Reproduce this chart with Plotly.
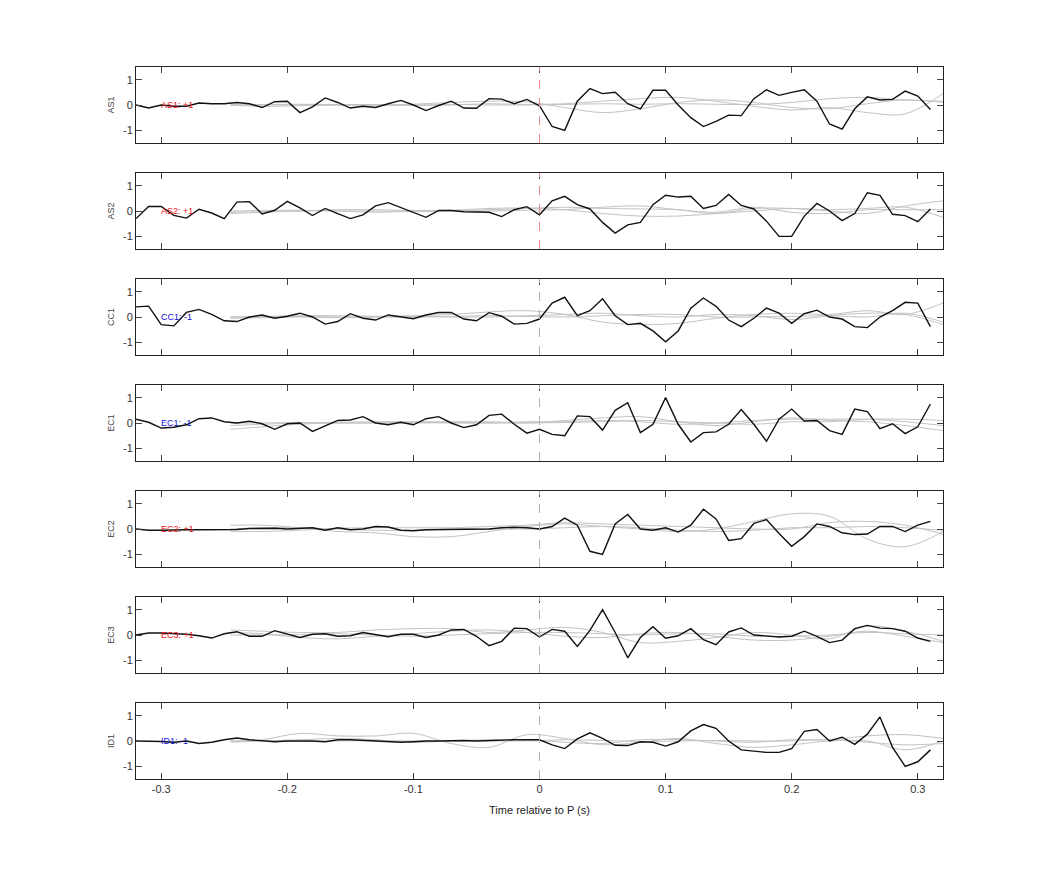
import numpy as np
import plotly.graph_objects as go
from plotly.subplots import make_subplots

t = [round(-0.32 + 0.01 * i, 2) for i in range(64)]

stations = ["AS1", "AS2", "CC1", "EC1", "EC2", "EC3", "ID1"]
labels = ["AS1: +1", "AS2: +1", "CC1: -1", "EC1: -1", "EC2: +1", "EC3: +1", "ID1: -1"]
label_colors = ["#e8141e", "#e8141e", "#1414d2", "#1414d2", "#e8141e", "#e8141e", "#1414d2"]
xtick_vals = [-0.3, -0.2, -0.1, 0, 0.1, 0.2, 0.3]
xtick_text = ["-0.3", "-0.2", "-0.1", "0", "0.1", "0.2", "0.3"]
ytick_vals = [-1, 0, 1]
ytick_text = ["-1", "0", "1"]

AS1 = [0, -0.12, 0, -0.05, -0.05, 0.08, 0.05, 0.05, 0.1, 0.05, -0.1, 0.13, 0.15, -0.3, -0.07, 0.28,
       0.1, -0.12, -0.05, -0.1, 0.05, 0.18, 0, -0.22, -0.02, 0.15, -0.12, -0.13, 0.25, 0.23, 0.05, 0.22,
       -0.03, -0.85, -1.0, 0.15, 0.65, 0.45, 0.5, 0.05, -0.15, 0.58, 0.58, 0, -0.5, -0.85, -0.65, -0.4,
       -0.42, 0.25, 0.6, 0.38, 0.5, 0.6, 0.15, -0.75, -0.95, -0.15, 0.32, 0.2, 0.22, 0.55, 0.35, -0.18]
AS2 = [-0.3, 0.18, 0.18, -0.17, -0.28, 0.07, -0.08, -0.3, 0.35, 0.37, -0.12, 0.03, 0.38, 0.12, -0.18, 0.1,
       -0.1, -0.3, -0.15, 0.2, 0.33, 0.13, -0.08, -0.25, 0.02, 0.02, -0.03, -0.03, -0.05, -0.22, 0.05, 0.17,
       -0.15, 0.4, 0.58, 0.25, 0.08, -0.45, -0.87, -0.55, -0.45, 0.25, 0.62, 0.55, 0.58, 0.1, 0.22, 0.65,
       0.22, 0.08, -0.4, -1.0, -1.0, -0.2, 0.3, 0.0, -0.38, -0.1, 0.72, 0.62, -0.13, -0.18, -0.42, 0.08]
CC1 = [0.4, 0.43, -0.3, -0.35, 0.18, 0.3, 0.1, -0.15, -0.18, 0, 0.08, -0.05, 0.03, 0.15, 0, -0.28,
       -0.18, 0.13, -0.05, -0.12, 0.08, 0, -0.07, 0.08, 0.18, 0.18, -0.08, -0.15, 0.17, 0.03, -0.28, -0.25,
       -0.08, 0.55, 0.78, 0.05, 0.25, 0.72, 0.05, -0.3, -0.25, -0.55, -0.98, -0.55, 0.35, 0.75, 0.42, -0.12,
       -0.38, -0.05, 0.35, 0.15, -0.25, 0.13, 0.27, 0.0, -0.08, -0.38, -0.42, 0.0, 0.25, 0.58, 0.55, -0.38]
EC1 = [0.15, 0.03, -0.2, -0.17, -0.07, 0.17, 0.2, 0.05, 0, 0.07, -0.03, -0.25, -0.03, 0, -0.33, -0.1,
       0.1, 0.12, 0.25, 0, -0.07, 0.03, -0.07, 0.17, 0.25, 0, -0.18, -0.07, 0.3, 0.35, -0.05, -0.4,
       -0.25, -0.45, -0.5, 0.28, 0.25, -0.28, 0.5, 0.8, -0.38, -0.05, 1.0, -0.05, -0.75, -0.38, -0.35, -0.05,
       0.53, -0.05, -0.72, 0.15, 0.55, 0.08, 0.1, -0.3, -0.45, 0.55, 0.45, -0.22, -0.03, -0.42, -0.15, 0.75]
EC2 = [0, -0.05, -0.05, -0.03, -0.03, -0.03, -0.03, -0.02, -0.02, 0.02, 0.03, 0.03, 0.0, 0.02, 0.05, -0.05,
       0.05, -0.03, 0.0, 0.1, 0.08, -0.05, -0.07, -0.03, -0.02, 0.0, 0.0, 0.0, 0.0, 0.05, 0.07, 0.05,
       0.0, 0.1, 0.43, 0.15, -0.88, -1.0, 0.2, 0.57, 0.0, -0.05, 0.05, -0.12, 0.15, 0.78, 0.4, -0.45,
       -0.38, 0.22, 0.37, -0.18, -0.68, -0.3, 0.2, 0.1, -0.15, -0.22, -0.2, 0.1, 0.1, -0.1, 0.15, 0.3]
EC3 = [0, 0.08, 0.08, 0.07, 0.03, -0.03, -0.12, 0.05, 0.13, -0.05, -0.05, 0.17, 0.05, -0.1, 0.03, 0.05,
       -0.05, -0.03, 0.1, 0.0, -0.07, 0.03, 0.03, -0.1, 0.0, 0.2, 0.22, -0.05, -0.42, -0.25, 0.27, 0.25,
       -0.08, 0.22, 0.15, -0.45, 0.18, 1.0, 0.1, -0.9, -0.1, 0.33, -0.13, -0.03, 0.25, -0.18, -0.38, 0.12,
       0.28, 0.0, -0.05, -0.08, -0.05, 0.15, -0.05, -0.3, -0.2, 0.25, 0.38, 0.27, 0.25, 0.15, -0.12, -0.25]
ID1 = [0, 0, -0.02, -0.05, 0, -0.1, -0.05, 0.05, 0.12, 0.05, 0, -0.03, 0, 0.0, 0, -0.03,
       0.05, 0.05, 0.03, 0, -0.03, -0.05, -0.03, 0, 0, 0.02, 0.02, 0.0, 0.02, 0.03, 0.05, 0.05,
       0.05, -0.15, -0.3, 0.08, 0.32, 0.1, -0.17, -0.18, -0.03, -0.05, -0.2, -0.03, 0.4, 0.65, 0.5, 0.0,
       -0.35, -0.4, -0.45, -0.45, -0.3, 0.38, 0.45, 0.0, 0.15, -0.13, 0.27, 0.95, -0.25, -1.0, -0.82, -0.35]
traces = [AS1, AS2, CC1, EC1, EC2, EC3, ID1]

# grey synthetic traces, control points
gt = [-0.245, -0.22, -0.19, -0.16, -0.13, -0.10, -0.07, -0.04, -0.01, 0.02,
      0.05, 0.08, 0.11, 0.14, 0.17, 0.20, 0.23, 0.26, 0.29, 0.32]
grey = [
    [[0, 0.02, 0.03, 0.02, 0, 0.03, 0.1, 0.15, 0.12, -0.1, -0.3, -0.15, 0.1, 0.2, 0.1, -0.1, -0.15, 0.05, 0.2, 0.1],
     [0, -0.05, -0.03, 0, 0.02, -0.02, 0, 0.05, 0.02, 0.05, 0.15, 0.25, 0.3, 0.15, -0.05, -0.2, -0.1, -0.3, -0.35, 0.45],
     [0, 0, 0.01, 0, -0.01, 0, 0.02, 0, 0, 0.02, 0.05, 0.03, 0.05, 0.03, 0.02, 0.1, 0.25, 0.3, 0.2, 0.15]],
    [[-0.05, -0.03, 0, 0.05, 0.05, 0.02, 0, 0.05, 0.1, 0.15, 0.1, 0.08, 0.05, -0.1, 0.1, 0.1, 0, -0.1, 0.2, 0.4],
     [-0.1, -0.05, 0, 0, -0.05, 0, 0.03, 0.1, 0.12, 0.05, -0.1, -0.2, -0.2, -0.1, 0, 0.1, 0.05, 0.1, 0.15, -0.25],
     [0, 0.02, 0.03, 0, 0, -0.03, 0, 0, 0.03, 0.05, 0.15, 0.2, 0.05, -0.05, 0.15, -0.05, -0.1, 0.05, 0.05, 0.05]],
    [[0, 0.02, 0.05, 0.05, 0.03, 0.05, 0.1, 0.2, 0.25, 0.1, -0.2, -0.3, -0.25, -0.05, 0.1, 0.15, 0.1, 0.25, 0.1, 0.55],
     [-0.05, -0.03, 0, -0.03, 0, 0.02, 0, 0, 0.05, 0.1, 0.15, 0.05, 0, 0.1, 0.05, -0.1, 0.05, 0.15, 0.1, -0.3],
     [0, 0, 0.02, 0, 0, 0, 0.02, 0.05, 0.02, 0, 0.05, 0.1, 0.1, 0, 0, 0.02, 0.05, 0, 0.15, -0.2]],
    [[-0.25, -0.15, -0.05, 0.02, 0.05, 0.05, 0.05, 0.05, 0, 0.1, 0.2, 0.25, 0.05, -0.1, 0.05, 0.2, 0.1, 0.05, -0.1, -0.3],
     [-0.1, -0.05, 0, 0, 0, 0.02, 0, 0, 0.05, 0.05, 0.1, 0.05, -0.05, 0, 0.1, 0.15, 0.15, 0.15, 0.05, -0.1],
     [0, 0, 0.02, 0, 0, 0, 0.02, 0, 0, 0.02, 0.05, 0.1, 0.05, 0, -0.05, 0.05, 0.05, 0.15, 0.15, 0.1]],
    [[0.15, 0.15, 0.05, -0.1, -0.15, -0.3, -0.3, -0.1, 0.1, 0.2, 0.1, 0.0, -0.1, 0.0, 0.3, 0.6, 0.5, -0.4, -0.7, -0.1],
     [-0.1, -0.1, -0.05, 0.03, 0.05, 0.05, 0.05, 0.1, 0.15, 0.25, 0.2, 0.15, 0.1, 0.05, 0, 0, 0.25, 0.3, 0.15, -0.2],
     [0, 0.05, 0.05, 0, -0.05, -0.05, 0, 0, 0, 0.05, 0.1, 0.05, -0.05, -0.1, -0.05, 0.05, 0.05, 0.1, 0.05, -0.05]],
    [[0.2, 0.15, 0.1, 0.1, 0.2, 0.25, 0.25, 0.1, 0.2, 0.3, 0.1, -0.3, -0.25, -0.1, 0.1, 0.0, -0.15, 0.35, 0.15, -0.25],
     [0.1, 0.05, -0.1, -0.15, -0.05, 0.05, 0.15, 0.2, 0.1, -0.05, -0.1, 0.05, 0.1, -0.05, -0.2, -0.2, -0.05, 0.15, -0.05, -0.3],
     [0, 0, 0.02, 0.05, 0, -0.05, 0, 0.05, 0.1, 0.1, 0.05, 0, 0.05, 0.05, -0.05, -0.05, 0, 0.1, 0.05, 0]],
    [[0, 0.05, 0.3, 0.2, 0.2, 0.3, -0.1, -0.25, 0.25, 0.1, -0.15, -0.05, 0.1, -0.1, -0.25, -0.15, 0.0, 0.0, -0.35, 0.0],
     [-0.05, 0, 0.05, 0.1, 0.05, -0.05, 0, 0.05, 0.05, -0.05, -0.1, 0.05, 0.05, 0, -0.05, 0.05, 0.05, 0.2, 0.25, 0.1],
     [0, 0, -0.02, 0, 0.02, 0, 0, 0, 0, 0.05, 0.02, -0.02, 0, 0.02, 0, 0, 0.05, -0.05, -0.15, -0.1]],
]

n = len(stations)
fig = make_subplots(rows=n, cols=1, shared_xaxes=False, vertical_spacing=30 / 712)

for i in range(n):
    r = i + 1
    for g in grey[i]:
        fig.add_trace(go.Scatter(x=gt, y=g, mode="lines", line=dict(color="#c3c3c3", width=1, shape="spline"),
                                 showlegend=False, hoverinfo="skip"), row=r, col=1)
    fig.add_trace(go.Scatter(x=t, y=traces[i], mode="lines", line=dict(color="#111111", width=1.4),
                             showlegend=False), row=r, col=1)
    xa = "x" if r == 1 else f"x{r}"
    ya = "y" if r == 1 else f"y{r}"
    dash_col = "#ee8888" if i < 2 else "#b0b0b0"
    fig.add_shape(type="line", x0=0, x1=0, y0=0, y1=1, xref=xa, yref=f"{ya} domain",
                  line=dict(color=dash_col, width=1, dash="dash"))
    fig.add_annotation(x=-0.302, y=0, xref=xa, yref=ya, text=labels[i], showarrow=False,
                       xanchor="left", font=dict(size=9, color=label_colors[i]))
    fig.update_yaxes(row=r, col=1, range=[-1.5, 1.5], tickvals=ytick_vals, ticktext=ytick_text,
                     ticks="inside", ticklen=6,
                     mirror="ticks", showline=True, linecolor="#222", linewidth=1, showgrid=False,
                     zeroline=False, title=dict(text=stations[i], font=dict(size=9, color="#444"), standoff=6),
                     tickfont=dict(size=11, color="#333"))
    fig.update_xaxes(row=r, col=1, range=[-0.32, 0.32], tickvals=xtick_vals, ticktext=xtick_text,
                     ticks="inside", ticklen=6, mirror="ticks", showline=True, linecolor="#222", linewidth=1,
                     showgrid=False, zeroline=False, showticklabels=(r == n),
                     tickfont=dict(size=11, color="#333"))

fig.update_xaxes(row=n, col=1, title=dict(text="Time relative to P (s)", font=dict(size=11, color="#222"),
                                          standoff=12))
fig.update_layout(width=1042, height=875, margin=dict(l=128, r=107, t=59, b=104),
                  plot_bgcolor="white", paper_bgcolor="white",
                  font=dict(family="Liberation Sans, Arial, sans-serif"))
fig.write_html("out.html")
